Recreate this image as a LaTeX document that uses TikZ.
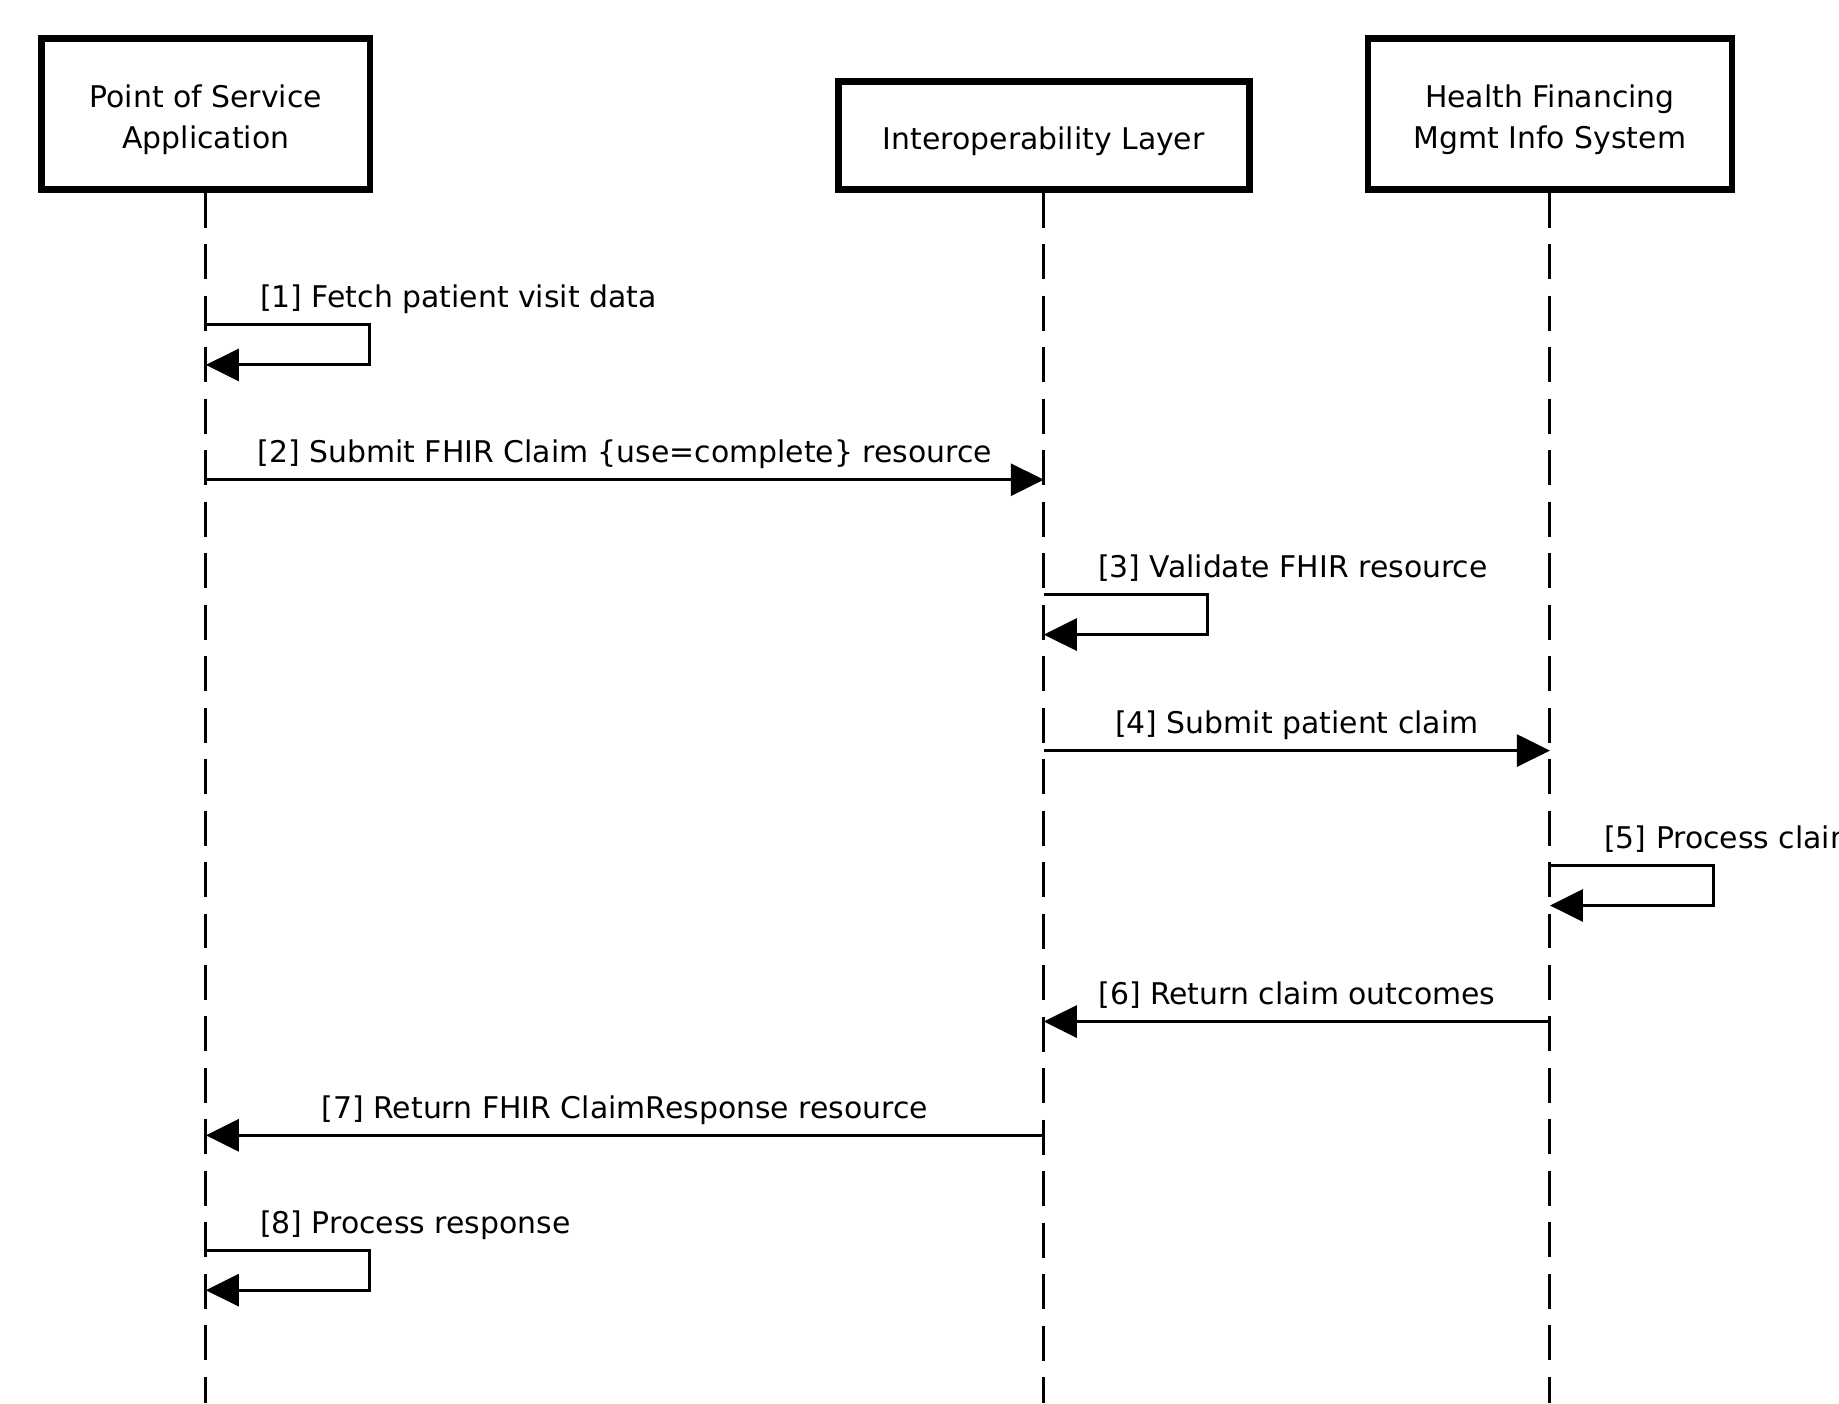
\documentclass[tikz,border=0pt]{standalone}
\usepackage{fontspec}
\setmainfont{DejaVu Sans}
\usepackage{tikz}
\usetikzlibrary{arrows.meta,calc,positioning}
\tikzstyle{sequence}=[
    x=0.02cm, y=-0.02cm,
    actor/.style={draw, line width=0.13cm, align=center, inner sep=0pt,
        font={\fontsize{17pt}{23.4pt}\selectfont}},
    lifeline/.style={line width=0.06cm, dash pattern=on 0.7cm off 0.33cm},
    message/.style={line width=0.06cm, -{Triangle[length=0.66cm,width=0.64cm]}},
    msg label/.style={inner sep=0pt, font={\fontsize{17pt}{23.4pt}\selectfont}}
]
\newcommand{\actorstrut}{\rule{0pt}{19.7pt}}
\newcommand{\selfmsg}[4]{
    \pgfmathsetmacro{\yin}{#3+40}
    \coordinate (#1 out) at (#2 |- 0,#3);
    \coordinate (#1 in) at (#2 |- 0,\yin);
    \draw[message] (#1 out) -- ++(164,0) |- (#1 in);
    \node[msg label, anchor=base west] (#1 label) at ($(#1 out)+(54,-17)$) {#4};
}
\newcommand{\msg}[5]{
    \coordinate (#1 from) at (#2 |- 0,#4);
    \coordinate (#1 to) at (#3 |- 0,#4);
    \draw[message] (#1 from) -- (#1 to);
    \node[msg label, anchor=base] (#1 label) at ($(#1 from)!0.5!(#1 to)+(0,-17)$) {#5};
}

\begin{document}
\begin{tikzpicture}[sequence]
    \path[use as bounding box, clip] (0,0) rectangle (1839,1403);
    \fill[white] (0,0) rectangle (1839,1403);

    % actors
    \node[actor, minimum width=6.57cm, minimum height=3.02cm] (pos) at (205.8,113.9) {\actorstrut Point of Service\\Application};
    \node[actor, minimum width=8.22cm, minimum height=2.16cm] (ip) at (1043.8,135.5) {\actorstrut Interoperability Layer};
    \node[actor, minimum width=7.28cm, minimum height=3.02cm] (hfm) at (1549.9,113.9) {\actorstrut Health Financing\\Mgmt Info System};

    \foreach \a in {pos,ip,hfm}
        \draw[lifeline] (\a.south) -- (\a |- 0,1403);

    % messages
    \selfmsg{m1}{pos}{324.9}{[1] Fetch patient visit data}
    \msg{m2}{pos}{ip}{479.7}{[2] Submit FHIR Claim \{use=complete\} resource}
    \selfmsg{m3}{ip}{594.6}{[3] Validate FHIR resource}
    \msg{m4}{ip}{hfm}{750.6}{[4] Submit patient claim}
    \selfmsg{m5}{hfm}{865.5}{[5] Process claim}
    \msg{m6}{hfm}{ip}{1021.5}{[6] Return claim outcomes}
    \msg{m7}{ip}{pos}{1135.3}{[7] Return FHIR ClaimResponse resource}
    \selfmsg{m8}{pos}{1250.2}{[8] Process response}
\end{tikzpicture}
\end{document}
